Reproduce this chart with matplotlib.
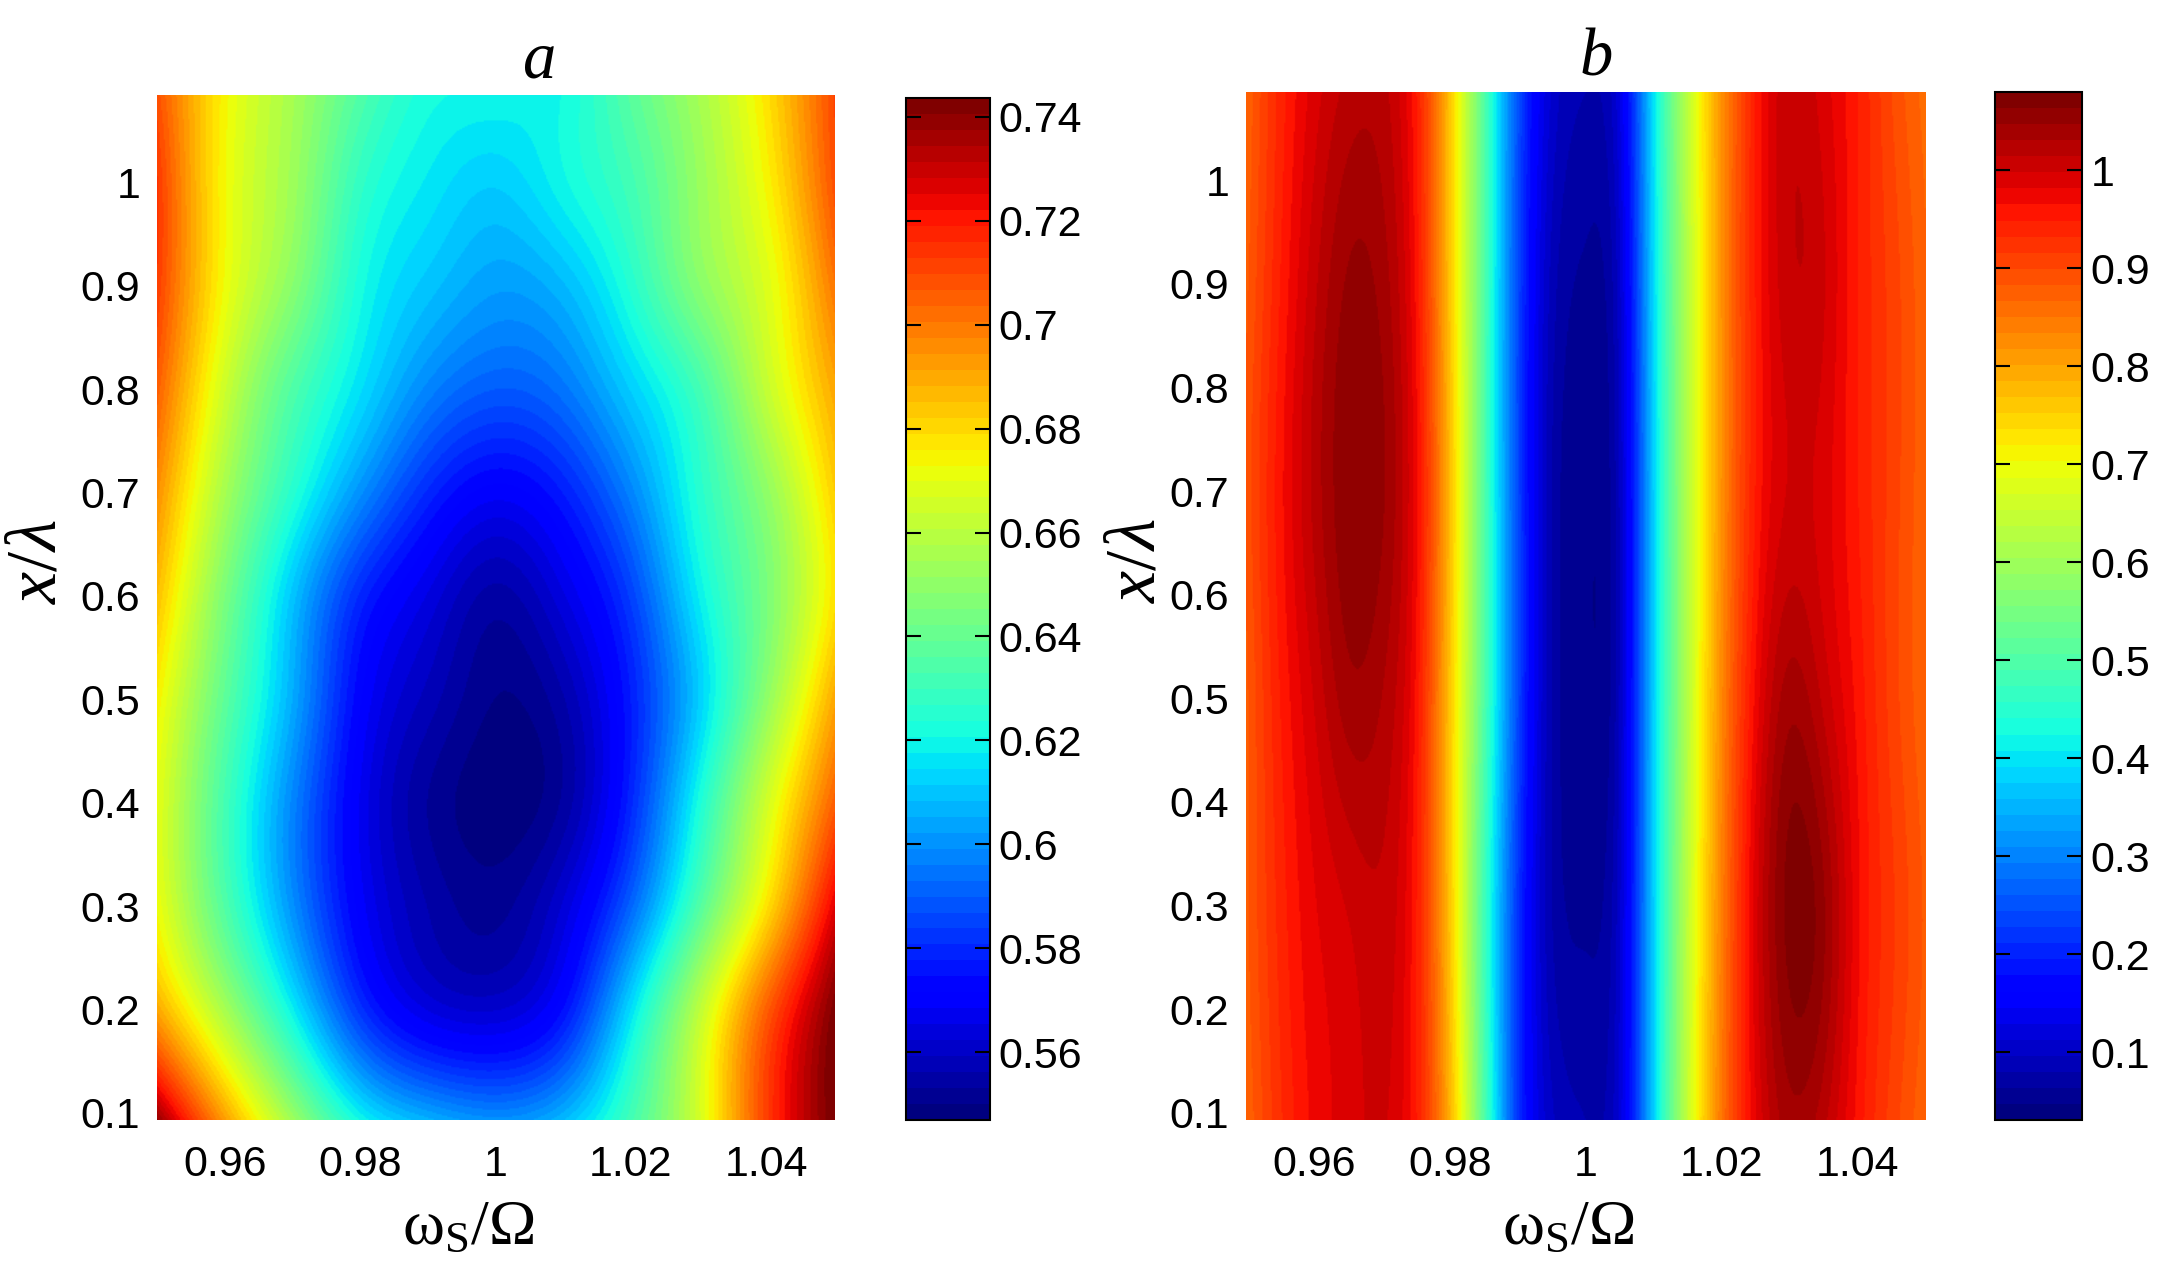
import numpy as np
import matplotlib
matplotlib.use("Agg")
import matplotlib.pyplot as plt

plt.rcParams['font.family'] = 'Liberation Sans'
plt.rcParams['mathtext.fontset'] = 'custom'
plt.rcParams['mathtext.rm'] = 'Liberation Serif'
plt.rcParams['mathtext.it'] = 'Liberation Serif:italic'

# panel a: sampled field (rows = x/lambda, columns = omega_s/Omega)
a_omega = [0.95, 0.96, 0.97, 0.98, 0.99, 1.00, 1.01, 1.02, 1.03, 1.04, 1.05]
a_xlam = [0.093, 0.2, 0.3, 0.4, 0.5, 0.6, 0.7, 0.8, 0.9, 1.0, 1.085]
a_vals = [
    [0.738, 0.692, 0.653, 0.620, 0.606, 0.600, 0.608, 0.632, 0.666, 0.712, 0.744],
    [0.690, 0.655, 0.618, 0.582, 0.565, 0.562, 0.575, 0.615, 0.660, 0.705, 0.742],
    [0.672, 0.635, 0.600, 0.570, 0.556, 0.552, 0.563, 0.592, 0.635, 0.678, 0.725],
    [0.670, 0.632, 0.598, 0.568, 0.553, 0.548, 0.554, 0.580, 0.622, 0.665, 0.705],
    [0.675, 0.638, 0.605, 0.572, 0.558, 0.550, 0.556, 0.578, 0.612, 0.650, 0.690],
    [0.685, 0.645, 0.610, 0.580, 0.565, 0.555, 0.565, 0.585, 0.618, 0.645, 0.678],
    [0.695, 0.655, 0.625, 0.600, 0.580, 0.570, 0.578, 0.598, 0.625, 0.650, 0.682],
    [0.705, 0.664, 0.635, 0.615, 0.598, 0.590, 0.595, 0.612, 0.632, 0.662, 0.690],
    [0.712, 0.672, 0.648, 0.622, 0.610, 0.603, 0.608, 0.625, 0.648, 0.668, 0.700],
    [0.713, 0.673, 0.653, 0.628, 0.617, 0.612, 0.620, 0.632, 0.652, 0.674, 0.708],
    [0.708, 0.674, 0.655, 0.635, 0.622, 0.620, 0.621, 0.637, 0.655, 0.678, 0.710],
]
a_clim = (0.547, 0.7435)
a_ticks = [0.56, 0.58, 0.60, 0.62, 0.64, 0.66, 0.68, 0.70, 0.72, 0.74]

# panel b
b_omega = [0.950, 0.955, 0.960, 0.965, 0.970, 0.975, 0.980, 0.985, 0.990, 0.995, 1.000,
           1.005, 1.010, 1.015, 1.020, 1.025, 1.030, 1.035, 1.040, 1.045, 1.050]
b_xlam = [0.093, 0.3, 0.5, 0.7, 0.9, 1.085]
b_vals = [
    [0.87, 0.93, 0.97, 0.99, 1.00, 0.95, 0.78, 0.50, 0.22, 0.10, 0.08, 0.12, 0.38, 0.65, 0.85, 0.98, 1.04, 1.02, 0.96, 0.91, 0.87],
    [0.88, 0.94, 0.98, 1.00, 1.01, 0.95, 0.76, 0.48, 0.22, 0.08, 0.06, 0.11, 0.38, 0.64, 0.84, 0.99, 1.07, 1.05, 0.97, 0.92, 0.88],
    [0.88, 0.95, 1.00, 1.04, 1.03, 0.96, 0.76, 0.50, 0.24, 0.08, 0.05, 0.10, 0.38, 0.63, 0.83, 0.97, 1.04, 1.01, 0.96, 0.91, 0.87],
    [0.89, 0.96, 1.02, 1.06, 1.05, 0.97, 0.77, 0.50, 0.24, 0.08, 0.05, 0.10, 0.38, 0.63, 0.82, 0.95, 1.00, 0.99, 0.95, 0.91, 0.87],
    [0.88, 0.95, 1.01, 1.05, 1.04, 0.96, 0.76, 0.50, 0.24, 0.09, 0.06, 0.11, 0.39, 0.63, 0.82, 0.95, 1.01, 1.00, 0.95, 0.91, 0.87],
    [0.87, 0.94, 0.99, 1.02, 1.02, 0.95, 0.76, 0.50, 0.25, 0.11, 0.08, 0.13, 0.40, 0.64, 0.82, 0.95, 1.01, 0.99, 0.95, 0.90, 0.86],
]
b_clim = (0.031, 1.08)
b_ticks = [0.1, 0.2, 0.3, 0.4, 0.5, 0.6, 0.7, 0.8, 0.9, 1.0]

x_ticks = [0.96, 0.98, 1.00, 1.02, 1.04]
y_ticks = [0.1, 0.2, 0.3, 0.4, 0.5, 0.6, 0.7, 0.8, 0.9, 1.0]


def spline_matrix(knots, pts):
    # natural cubic spline, as a linear map from knot values to pts
    x = np.asarray(knots, float)
    n = len(x)
    h = np.diff(x)
    A = np.zeros((n, n))
    B = np.zeros((n, n))
    A[0, 0] = A[-1, -1] = 1.0
    for i in range(1, n - 1):
        A[i, i - 1] = h[i - 1]
        A[i, i] = 2 * (h[i - 1] + h[i])
        A[i, i + 1] = h[i]
        B[i, i - 1] = 6 / h[i - 1]
        B[i, i] = -6 / h[i - 1] - 6 / h[i]
        B[i, i + 1] = 6 / h[i]
    Mk = np.linalg.solve(A, B)  # second derivatives from values
    idx = np.clip(np.searchsorted(x, pts) - 1, 0, n - 2)
    out = np.zeros((len(pts), n))
    for r, (p, i) in enumerate(zip(pts, idx)):
        hi = h[i]
        a = x[i + 1] - p
        b = p - x[i]
        out[r] += (a ** 3 / (6 * hi) - a * hi / 6) * Mk[i]
        out[r] += (b ** 3 / (6 * hi) - b * hi / 6) * Mk[i + 1]
        out[r, i] += a / hi
        out[r, i + 1] += b / hi
    return out


def smooth_field(xs, ys, z, nx=500, ny=700):
    fx = np.linspace(xs[0], xs[-1], nx)
    fy = np.linspace(ys[0], ys[-1], ny)
    return spline_matrix(ys, fy) @ np.asarray(z) @ spline_matrix(xs, fx).T


cmap = plt.get_cmap('jet', 64)

fig = plt.figure(figsize=(21.84, 12.66), dpi=100)
ax1 = fig.add_axes([0.0719, 0.1153, 0.310, 0.810])
cax1 = fig.add_axes([0.4148, 0.1153, 0.0385, 0.807])
ax2 = fig.add_axes([0.5705, 0.1153, 0.311, 0.812])
cax2 = fig.add_axes([0.9135, 0.1153, 0.0398, 0.812])

panels = [
    (ax1, cax1, a_omega, a_xlam, a_vals, a_clim, a_ticks, 'a', 0.564, 0.46, -0.128),
    (ax2, cax2, b_omega, b_xlam, b_vals, b_clim, b_ticks, 'b', 0.515, 0.474, -0.113),
]

for ax, cax, om, xl, vals, clim, cticks, name, tx, lx, ly in panels:
    zf = smooth_field(om, xl, vals)
    im = ax.imshow(zf, extent=(om[0], om[-1], xl[0], xl[-1]), origin='lower',
                   aspect='auto', cmap=cmap, vmin=clim[0], vmax=clim[1],
                   interpolation='bilinear')
    ax.set_xlim(om[0], om[-1])
    ax.set_ylim(xl[0], xl[-1])
    ax.set_xticks(x_ticks)
    ax.set_xticklabels(['%g' % t for t in x_ticks])
    ax.set_yticks(y_ticks)
    ax.set_yticklabels(['%g' % t for t in y_ticks])
    ax.tick_params(axis='both', length=0, labelsize=31)
    ax.tick_params(axis='x', pad=18)
    ax.tick_params(axis='y', pad=12)
    for s in ax.spines.values():
        s.set_visible(False)
    ax.set_title(name, family='Liberation Serif', style='italic', fontsize=48, pad=12, x=tx)
    ax.set_xlabel('\u03c9$_\\mathrm{S}$/\u03a9', family='Liberation Serif', fontsize=46)
    ax.xaxis.set_label_coords(lx, -0.078)
    ax.set_ylabel('$x/\\lambda$', fontsize=52)
    ax.yaxis.set_label_coords(ly, 0.544)

    cb = fig.colorbar(im, cax=cax, ticks=cticks, format='%g')
    cb.outline.set_linewidth(1.5)
    cb.ax.tick_params(direction='in', left=True, right=True, length=11, width=1.5,
                      labelsize=31, pad=6)

fig.savefig('out.png', dpi=100)
